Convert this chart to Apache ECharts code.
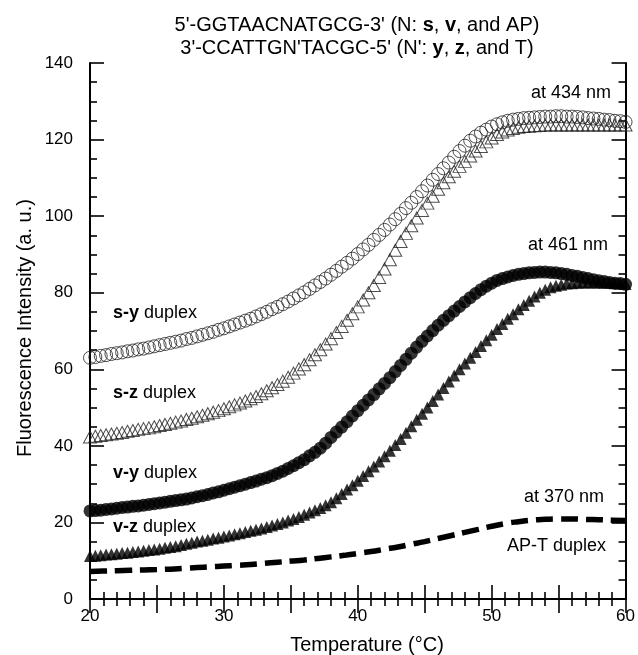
<!DOCTYPE html>
<html>
<head>
<meta charset="utf-8">
<script src="https://cdn.jsdelivr.net/npm/echarts@6/dist/echarts.min.js"></script>
<style>
  html, body { margin: 0; padding: 0; background: #fff; }
  #chart { width: 638px; height: 655px; }
</style>
</head>
<body>
<div id="chart"></div>
<script>
// temperature grid of the marker series (°C)
var temps = [20, 20.4, 20.8, 21.2, 21.6, 22, 22.4, 22.8, 23.2, 23.6, 24, 24.4, 24.8, 25.2, 25.6, 26, 26.4, 26.8, 27.2, 27.6,
  28, 28.4, 28.8, 29.2, 29.6, 30, 30.4, 30.8, 31.2, 31.6, 32, 32.4, 32.8, 33.2, 33.6, 34, 34.4, 34.8, 35.2, 35.6,
  36, 36.4, 36.8, 37.2, 37.6, 38, 38.4, 38.8, 39.2, 39.6, 40, 40.4, 40.8, 41.2, 41.6, 42, 42.4, 42.8, 43.2, 43.6,
  44, 44.4, 44.8, 45.2, 45.6, 46, 46.4, 46.8, 47.2, 47.6, 48, 48.4, 48.8, 49.2, 49.6, 50, 50.4, 50.8, 51.2, 51.6,
  52, 52.4, 52.8, 53.2, 53.6, 54, 54.4, 54.8, 55.2, 55.6, 56, 56.4, 56.8, 57.2, 57.6, 58, 58.4, 58.8, 59.2, 59.6, 60];

// s-y duplex, open circles, 434 nm
var sy = [63.0, 63.2, 63.5, 63.7, 64.0, 64.2, 64.4, 64.7, 64.9, 65.2, 65.4, 65.7, 66.0, 66.3, 66.6, 66.9, 67.2, 67.5, 67.9, 68.2,
  68.6, 69.0, 69.4, 69.8, 70.3, 70.7, 71.2, 71.7, 72.2, 72.7, 73.2, 73.8, 74.4, 75.0, 75.7, 76.3, 77.0, 77.7, 78.5, 79.3,
  80.1, 81.0, 81.9, 82.8, 83.7, 84.7, 85.7, 86.8, 87.8, 88.9, 90.1, 91.3, 92.5, 93.8, 95.1, 96.4, 97.8, 99.2, 100.6, 102.1,
  103.5, 105.0, 106.5, 108.0, 109.5, 111.0, 112.5, 114.0, 115.5, 117.0, 118.4, 119.7, 120.8, 121.8, 122.6, 123.4, 124.0, 124.5, 124.9, 125.2,
  125.4, 125.6, 125.7, 125.8, 125.9, 126.0, 126.0, 126.1, 126.1, 126.0, 126.0, 125.9, 125.8, 125.6, 125.5, 125.4, 125.2, 125.1, 124.9, 124.8, 124.6];

// s-z duplex, open triangles, 434 nm
var sz = [42.3, 42.5, 42.7, 42.9, 43.1, 43.3, 43.5, 43.8, 44.0, 44.3, 44.5, 44.7, 45.0, 45.3, 45.6, 45.9, 46.2, 46.5, 46.9, 47.2,
  47.6, 48.0, 48.4, 48.8, 49.2, 49.7, 50.2, 50.7, 51.2, 51.7, 52.3, 52.9, 53.6, 54.4, 55.2, 56.0, 56.9, 57.9, 59.0, 60.1,
  61.2, 62.5, 63.8, 65.1, 66.6, 68.0, 69.6, 71.2, 72.8, 74.5, 76.3, 78.1, 80.0, 81.9, 84.0, 86.2, 88.6, 91.1, 93.4, 95.5,
  97.5, 99.5, 101.5, 103.4, 105.2, 107.0, 108.7, 110.3, 111.7, 113.0, 114.3, 115.7, 117.0, 118.2, 119.4, 120.4, 121.3, 122.0, 122.5, 122.9,
  123.2, 123.4, 123.5, 123.6, 123.7, 123.8, 123.8, 123.8, 123.8, 123.8, 123.8, 123.8, 123.8, 123.8, 123.8, 123.8, 123.8, 123.8, 123.8, 123.8, 123.8];

// v-y duplex, filled circles, 461 nm
var vy = [23.0, 23.1, 23.2, 23.4, 23.5, 23.7, 23.9, 24.0, 24.2, 24.3, 24.5, 24.7, 24.9, 25.1, 25.3, 25.5, 25.7, 25.9, 26.1, 26.4,
  26.7, 27.0, 27.3, 27.7, 28.0, 28.4, 28.8, 29.2, 29.6, 30.0, 30.4, 30.8, 31.3, 31.7, 32.2, 32.8, 33.4, 34.1, 34.8, 35.6,
  36.4, 37.4, 38.3, 39.4, 40.7, 42.2, 43.6, 44.9, 46.3, 47.8, 49.2, 50.6, 52.0, 53.4, 54.9, 56.3, 57.8, 59.4, 61.0, 62.6,
  64.2, 65.8, 67.3, 68.7, 70.1, 71.5, 72.8, 74.0, 75.2, 76.4, 77.6, 78.7, 79.8, 80.8, 81.7, 82.5, 83.2, 83.7, 84.1, 84.5,
  84.8, 85.0, 85.2, 85.3, 85.4, 85.4, 85.3, 85.2, 85.0, 84.8, 84.5, 84.3, 84.0, 83.7, 83.4, 83.1, 82.9, 82.7, 82.5, 82.4, 82.2];

// v-z duplex, filled triangles, 461 nm
var vz = [11.2, 11.3, 11.4, 11.6, 11.7, 11.8, 12.0, 12.1, 12.3, 12.4, 12.6, 12.8, 12.9, 13.1, 13.4, 13.6, 13.8, 14.1, 14.4, 14.7,
  15.0, 15.2, 15.5, 15.8, 16.0, 16.3, 16.6, 16.9, 17.2, 17.5, 17.8, 18.1, 18.4, 18.8, 19.2, 19.6, 20.0, 20.5, 20.9, 21.4,
  22.0, 22.6, 23.2, 23.8, 24.5, 25.3, 26.3, 27.4, 28.6, 29.7, 30.9, 32.1, 33.4, 34.6, 35.9, 37.3, 38.7, 40.2, 41.8, 43.4,
  45.1, 46.8, 48.4, 50.0, 51.7, 53.4, 55.1, 56.8, 58.4, 60.0, 61.5, 63.0, 64.5, 66.1, 67.6, 69.0, 70.5, 71.8, 73.2, 74.4,
  75.7, 76.8, 77.9, 79.0, 80.0, 80.8, 81.4, 81.8, 82.1, 82.4, 82.5, 82.6, 82.7, 82.7, 82.7, 82.7, 82.6, 82.6, 82.5, 82.4, 82.3];

// AP-T duplex, dashed line, 370 nm
var tempsAP = [20, 21, 22, 23, 24, 25, 26, 27, 28, 29, 30, 31, 32, 33, 34, 35, 36, 37, 38, 39,
  40, 41, 42, 43, 44, 45, 46, 47, 48, 49, 50, 51, 52, 53, 54, 55, 56, 57, 58, 59, 60];
var ap = [7.2, 7.3, 7.4, 7.5, 7.6, 7.7, 7.8, 8, 8.2, 8.4, 8.6, 8.8, 9, 9.3, 9.6, 9.9, 10.2, 10.6, 11, 11.4,
  11.9, 12.4, 13, 13.6, 14.3, 15, 15.8, 16.6, 17.4, 18.2, 19, 19.7, 20.2, 20.6, 20.8, 20.9, 20.9, 20.8, 20.7, 20.6, 20.5];

function pairs(xs, ys) {
  return xs.map(function (x, i) { return [x, ys[i]]; });
}

(function () {
  var myechart = echarts.init(document.getElementById("chart"));
  var font = "Liberation Sans, Arial, sans-serif";
  var tickStyle = { color: "#000", width: 1.6 };

  function boldRich(size) {
    return { b: { fontWeight: "bold", fontSize: size, fontFamily: font, fill: "#000" } };
  }

  function note(x, y, text, align) {
    return {
      type: "text",
      x: x,
      y: y,
      style: {
        text: text,
        fill: "#000",
        font: "18px " + font,
        align: align,
        verticalAlign: "middle",
        rich: boldRich(18),
      },
    };
  }

  function frameX(pos, showLabel) {
    return {
      type: "value",
      position: pos,
      min: 20,
      max: 60,
      interval: 5,
      axisLine: { lineStyle: { color: "#000", width: 2 } },
      axisTick: { inside: true, length: 14, lineStyle: tickStyle },
      minorTick: { show: true, splitNumber: 5, length: 7, lineStyle: tickStyle },
      splitLine: { show: false },
      axisLabel: {
        show: showLabel,
        margin: 9,
        color: "#000",
        fontSize: 17,
        fontFamily: font,
        formatter: function (v) { return v % 10 === 0 ? v : ""; },
      },
    };
  }

  function frameY(pos, showLabel) {
    return {
      type: "value",
      position: pos,
      min: 0,
      max: 140,
      interval: 20,
      axisLine: { show: true, lineStyle: { color: "#000", width: 2 } },
      axisTick: { show: true, inside: true, length: 14, lineStyle: tickStyle },
      minorTick: { show: true, splitNumber: 4, length: 7, lineStyle: tickStyle },
      splitLine: { show: false },
      axisLabel: { show: showLabel, margin: 17, color: "#000", fontSize: 17, fontFamily: font },
    };
  }

  var option = {
    animation: false,
    grid: { left: 90, right: 11, top: 63, bottom: 56 },
    xAxis: [frameX("bottom", true), frameX("top", false)],
    yAxis: [frameY("left", true), frameY("right", false)],
    graphic: [
      {
        type: "text",
        x: 357,
        y: 25,
        style: {
          text: "5'-GGTAACNATGCG-3' (N: {b|s}, {b|v}, and AP)",
          fill: "#000",
          font: "20px " + font,
          align: "center",
          verticalAlign: "middle",
          rich: boldRich(20),
        },
      },
      {
        type: "text",
        x: 357,
        y: 48,
        style: {
          text: "3'-CCATTGN'TACGC-5' (N': {b|y}, {b|z}, and T)",
          fill: "#000",
          font: "20px " + font,
          align: "center",
          verticalAlign: "middle",
          rich: boldRich(20),
        },
      },
      {
        type: "text",
        x: 367,
        y: 645,
        style: {
          text: "Temperature (°C)",
          fill: "#000",
          font: "20px " + font,
          align: "center",
          verticalAlign: "middle",
        },
      },
      {
        type: "text",
        x: 25,
        y: 328,
        rotation: Math.PI / 2,
        style: {
          text: "Fluorescence Intensity (a. u.)",
          fill: "#000",
          font: "20px " + font,
          align: "center",
          verticalAlign: "middle",
        },
      },
      note(113, 313, "{b|s-y} duplex", "left"),
      note(113, 393, "{b|s-z} duplex", "left"),
      note(113, 473, "{b|v-y} duplex", "left"),
      note(113, 527, "{b|v-z} duplex", "left"),
      note(611, 93, "at 434 nm", "right"),
      note(608, 245, "at 461 nm", "right"),
      note(604, 497, "at 370 nm", "right"),
      note(606, 546, "AP-T duplex", "right"),
    ],
    series: [
      {
        name: "AP-T",
        type: "line",
        smooth: true,
        symbol: "none",
        lineStyle: { color: "#000", width: 5.5, type: [17, 8] },
        data: pairs(tempsAP, ap),
      },
      {
        name: "v-z",
        type: "scatter",
        symbol: "triangle",
        symbolSize: [12, 12],
        itemStyle: { color: "#000" },
        data: pairs(temps, vz),
      },
      {
        name: "v-y",
        type: "scatter",
        symbol: "circle",
        symbolSize: 13,
        itemStyle: { color: "#000" },
        data: pairs(temps, vy),
      },
      {
        name: "s-z",
        type: "scatter",
        symbol: "triangle",
        symbolSize: [13, 12],
        itemStyle: { color: "rgba(0,0,0,0)", borderColor: "#222", borderWidth: 1 },
        data: pairs(temps, sz),
      },
      {
        name: "s-y",
        type: "scatter",
        symbol: "circle",
        symbolSize: 13,
        itemStyle: { color: "rgba(0,0,0,0)", borderColor: "#222", borderWidth: 1 },
        data: pairs(temps, sy),
      },
    ],
  };

  myechart.setOption(option);
  window.addEventListener("resize", function () {
    myechart.resize();
  });
})();
</script>
</body>
</html>
